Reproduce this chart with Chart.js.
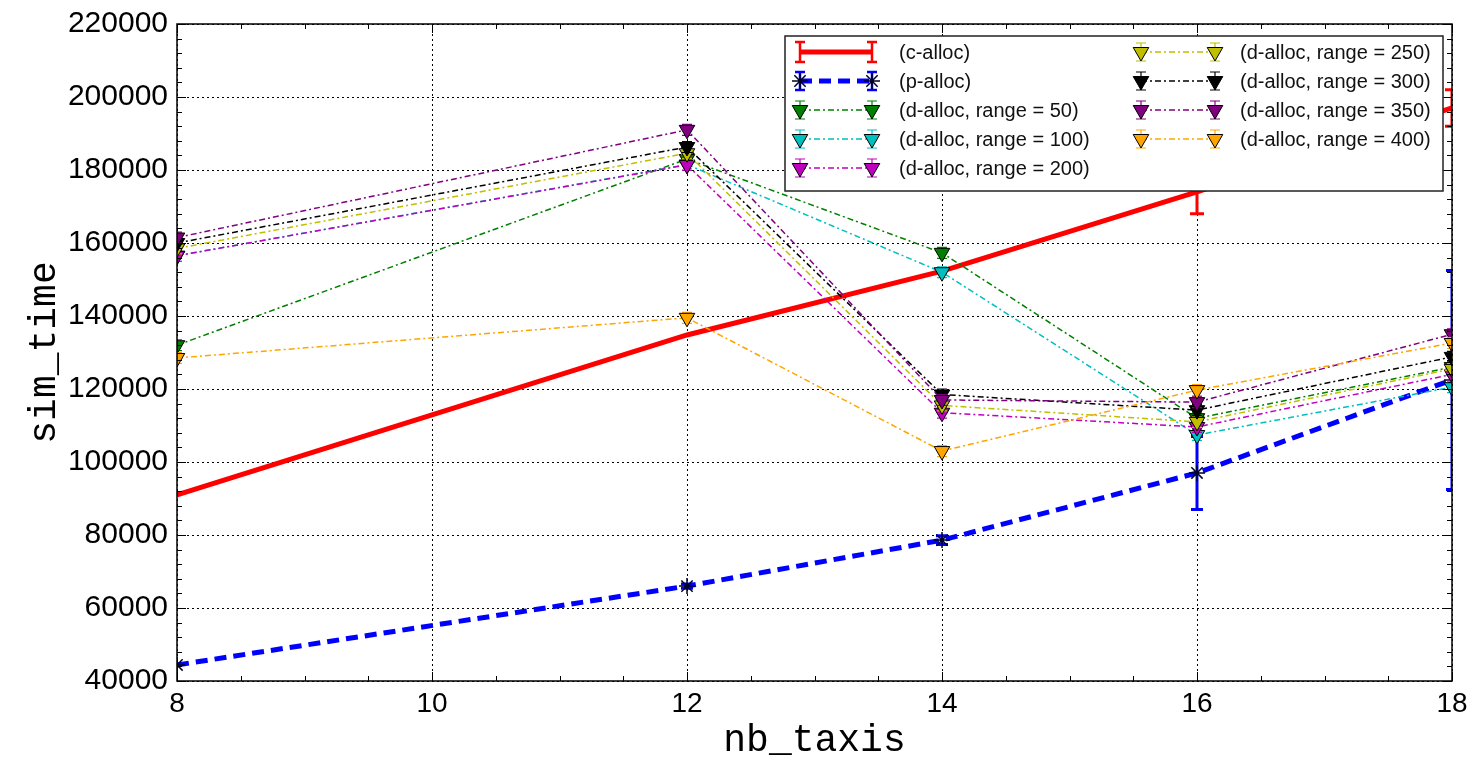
<!DOCTYPE html>
<html>
<head>
<meta charset="utf-8">
<script src="https://cdn.jsdelivr.net/npm/chart.js@4.4.0/dist/chart.umd.min.js"></script>
<style>
  html, body { margin: 0; padding: 0; background: #fff; }
  #wrap { width: 1470px; height: 760px; }
</style>
</head>
<body>
<div id="wrap"><canvas id="chart" width="1470" height="760"></canvas></div>
<script>
// valeurs de l'axe x (nb_taxis)
const nbTaxis = [8, 12, 14, 16, 18];
const xTicks = [8, 10, 12, 14, 16, 18];
const yTicks = [40000, 60000, 80000, 100000, 120000, 140000, 160000, 180000, 200000, 220000];

// c-alloc et p-alloc (avec barres d'erreur)
const cAlloc    = [91000, 134800, 152300, 174000, 197000];
const cAllocErr = [0, 0, 0, 6000, 5000];
const pAlloc    = [44400, 66000, 78600, 97000, 122500];
const pAllocErr = [0, 600, 1200, 10000, 30000];

// d-alloc, une serie par range
const dAlloc50  = [132000, 183000, 157300, 112000, 126000];
const dAlloc100 = [156500, 181500, 152000, 107400, 120500];
const dAlloc200 = [156500, 181400, 113500, 109600, 124000];
const dAlloc250 = [158500, 184600, 115500, 111000, 125500];
const dAlloc300 = [160000, 186300, 118500, 114200, 128800];
const dAlloc350 = [161500, 191000, 117000, 116400, 135000];
const dAlloc400 = [128500, 139500, 103000, 119700, 132600];
const dAllocErr = [1500, 1500, 1500, 1500, 1500];

const labels = ['(c-alloc)', '(p-alloc)', '(d-alloc, range = 50)', '(d-alloc, range = 100)',
  '(d-alloc, range = 200)', '(d-alloc, range = 250)', '(d-alloc, range = 300)',
  '(d-alloc, range = 350)', '(d-alloc, range = 400)'];
const colors = ['#ff0000', '#0000ff', '#008000', '#00bfbf', '#bf00bf', '#bfbf00', '#000000', '#800080', '#ffa500'];

function pts(values) {
  return values.map((v, i) => ({ x: nbTaxis[i], y: v }));
}

const DASHDOT = [6, 3, 2, 3];

function dSeries(idx, values) {
  return {
    label: labels[idx],
    data: pts(values),
    errors: dAllocErr,
    borderColor: colors[idx],
    backgroundColor: colors[idx],
    borderWidth: 1.5,
    borderDash: DASHDOT,
    pointStyle: 'triangle',
    rotation: 180,
    pointRadius: 9,
    pointHoverRadius: 9,
    pointBorderColor: '#000',
    pointBorderWidth: 1,
    pointBackgroundColor: colors[idx],
    capWidth: 5,
    errWidth: 1.2,
    order: 9 - idx
  };
}

const datasets = [
  {
    label: labels[0], data: pts(cAlloc), errors: cAllocErr,
    borderColor: colors[0], backgroundColor: colors[0], borderWidth: 5,
    pointRadius: 0, pointHoverRadius: 0, capWidth: 7, errWidth: 3, order: 9
  },
  {
    label: labels[1], data: pts(pAlloc), errors: pAllocErr,
    borderColor: colors[1], backgroundColor: colors[1], borderWidth: 5, borderDash: [12, 7],
    pointStyle: 'star', pointRadius: 8, pointHoverRadius: 8,
    pointBorderColor: '#000022', pointBorderWidth: 1.5,
    capWidth: 6, errWidth: 3, order: 8
  },
  dSeries(2, dAlloc50),
  dSeries(3, dAlloc100),
  dSeries(4, dAlloc200),
  dSeries(5, dAlloc250),
  dSeries(6, dAlloc300),
  dSeries(7, dAlloc350),
  dSeries(8, dAlloc400)
];

// barres d'erreur, dessinees sous chaque serie
const errorBars = {
  id: 'errorBars',
  beforeDatasetDraw(chart, args) {
    const ds = chart.data.datasets[args.index];
    if (!ds.errors) return;
    const ctx = chart.ctx, xs = chart.scales.x, ys = chart.scales.y, a = chart.chartArea;
    ctx.save();
    ctx.beginPath();
    ctx.rect(a.left, a.top, a.right - a.left, a.bottom - a.top);
    ctx.clip();
    ctx.strokeStyle = ds.borderColor;
    ctx.lineWidth = ds.errWidth;
    ctx.setLineDash([]);
    ds.data.forEach((p, i) => {
      const e = ds.errors[i];
      if (!e) return;
      const px = xs.getPixelForValue(p.x);
      const y1 = ys.getPixelForValue(p.y - e);
      const y2 = ys.getPixelForValue(p.y + e);
      ctx.beginPath();
      ctx.moveTo(px, y1); ctx.lineTo(px, y2);
      ctx.moveTo(px - ds.capWidth, y1); ctx.lineTo(px + ds.capWidth, y1);
      ctx.moveTo(px - ds.capWidth, y2); ctx.lineTo(px + ds.capWidth, y2);
      ctx.stroke();
    });
    ctx.restore();
  }
};

// cadre, graduations internes et legende
const frameAndLegend = {
  id: 'frameAndLegend',
  afterDraw(chart) {
    const ctx = chart.ctx, a = chart.chartArea, xs = chart.scales.x, ys = chart.scales.y;
    ctx.save();
    ctx.setLineDash([]);
    ctx.strokeStyle = '#000';
    ctx.lineWidth = 1;
    // graduations mineures et majeures sur les 4 cotes
    for (let v = 8; v <= 18.001; v += 0.5) {
      const px = Math.round(xs.getPixelForValue(v)) + 0.5;
      const len = (Math.abs(v - Math.round(v / 2) * 2) < 1e-6) ? 9 : 5;
      ctx.beginPath();
      ctx.moveTo(px, a.bottom); ctx.lineTo(px, a.bottom - len);
      ctx.moveTo(px, a.top); ctx.lineTo(px, a.top + len);
      ctx.stroke();
    }
    for (let v = 40000; v <= 220000; v += 4000) {
      const py = Math.round(ys.getPixelForValue(v)) + 0.5;
      const len = (v % 20000 === 0) ? 9 : 5;
      ctx.beginPath();
      ctx.moveTo(a.left, py); ctx.lineTo(a.left + len, py);
      ctx.moveTo(a.right, py); ctx.lineTo(a.right - len, py);
      ctx.stroke();
    }
    ctx.lineWidth = 1.5;
    ctx.strokeRect(a.left, a.top, a.right - a.left, a.bottom - a.top);

    // legende
    const bx = 785, by = 36, bw = 658, bh = 155;
    ctx.fillStyle = '#fff';
    ctx.fillRect(bx, by, bw, bh);
    ctx.lineWidth = 1.5;
    ctx.strokeStyle = '#222';
    ctx.strokeRect(bx, by, bw, bh);
    const cols = [{ x1: 800, x2: 872, tx: 899 }, { x1: 1141, x2: 1215, tx: 1240 }];
    const rowY = [52, 81, 110, 139, 168];
    ctx.font = '20px "Liberation Sans", Arial, sans-serif';
    ctx.textBaseline = 'middle';
    chart.data.datasets.forEach((ds, i) => {
      const c = cols[i < 5 ? 0 : 1];
      const y = rowY[i < 5 ? i : i - 5];
      // trait
      ctx.save();
      ctx.strokeStyle = ds.borderColor;
      ctx.lineWidth = ds.borderWidth;
      ctx.setLineDash(ds.borderDash || []);
      ctx.beginPath();
      ctx.moveTo(c.x1, y); ctx.lineTo(c.x2, y);
      ctx.stroke();
      ctx.setLineDash([]);
      // petites barres d'erreur
      const h = i === 0 ? 10 : 9;
      ctx.lineWidth = i < 2 ? 2.5 : 1.2;
      [c.x1, c.x2].forEach(px => {
        ctx.beginPath();
        ctx.moveTo(px, y - h); ctx.lineTo(px, y + h);
        ctx.moveTo(px - 5, y - h); ctx.lineTo(px + 5, y - h);
        ctx.moveTo(px - 5, y + h); ctx.lineTo(px + 5, y + h);
        ctx.stroke();
      });
      // marqueurs
      if (ds.pointRadius > 0) {
        ctx.fillStyle = ds.pointBackgroundColor || ds.backgroundColor;
        ctx.strokeStyle = ds.pointBorderColor;
        ctx.lineWidth = ds.pointBorderWidth;
        [c.x1, c.x2].forEach(px => {
          Chart.helpers.drawPoint(ctx, {
            pointStyle: ds.pointStyle, rotation: ds.rotation || 0,
            radius: ds.pointRadius, borderWidth: ds.pointBorderWidth
          }, px, y);
        });
      }
      ctx.restore();
      ctx.fillStyle = '#111';
      ctx.fillText(ds.label, c.tx, y + 1);
    });
    ctx.restore();
  }
};

new Chart(document.getElementById('chart'), {
  type: 'line',
  data: { datasets: datasets },
  plugins: [errorBars, frameAndLegend],
  options: {
    responsive: false,
    devicePixelRatio: 1,
    animation: false,
    layout: { padding: { top: 24, right: 0, left: 0, bottom: 0 } },
    plugins: { legend: { display: false }, tooltip: { enabled: false } },
    elements: { line: { tension: 0 } },
    scales: {
      x: {
        type: 'linear', min: 8, max: 18,
        afterBuildTicks: s => { s.ticks = xTicks.map(v => ({ value: v })); },
        afterFit: s => { s.height = 79; s.paddingLeft = 0; s.paddingRight = 18; },
        grid: { color: '#000', lineWidth: 1, drawTicks: false },
        border: { display: false, dash: [2, 3] },
        ticks: {
          color: '#000', padding: 6, maxRotation: 0,
          font: { family: '"Liberation Sans Narrow", "Liberation Sans", Arial, sans-serif', size: 28 }
        },
        title: {
          display: true, text: 'nb_taxis', color: '#000',
          font: { family: '"Liberation Mono", "DejaVu Sans Mono", monospace', size: 38, lineHeight: 1 },
          padding: { top: 0, bottom: 0 }
        }
      },
      y: {
        type: 'linear', min: 40000, max: 220000,
        afterBuildTicks: s => { s.ticks = yTicks.map(v => ({ value: v })); },
        afterFit: s => { s.width = 177; s.paddingTop = 0; s.paddingBottom = 0; },
        grid: { color: '#000', lineWidth: 1, drawTicks: false },
        border: { display: false, dash: [2, 3] },
        ticks: {
          color: '#000', padding: 9,
          callback: v => String(v),
          font: { family: '"Liberation Sans", Arial, sans-serif', size: 30 }
        },
        title: {
          display: true, text: 'sim_time', color: '#000',
          font: { family: '"Liberation Mono", "DejaVu Sans Mono", monospace', size: 38, lineHeight: 1.2 },
          padding: { top: 22, bottom: 0 }
        }
      }
    }
  }
});
</script>
</body>
</html>
